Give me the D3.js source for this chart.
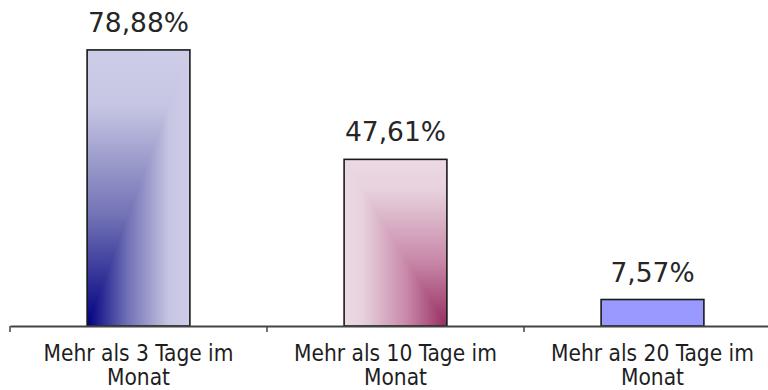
<!DOCTYPE html>
<html>
<head>
<meta charset="utf-8">
<script src="https://cdn.jsdelivr.net/npm/d3@7"></script>
<style>
  html, body { margin: 0; padding: 0; background: #fff; }
  svg { display: block; }
</style>
</head>
<body>
<svg id="chart" width="768" height="390"></svg>
<script>
// Share of respondents by number of days per month
const categories = [
  "Mehr als 3 Tage im Monat",
  "Mehr als 10 Tage im Monat",
  "Mehr als 20 Tage im Monat"
];
const values = [78.88, 47.61, 7.57];
const yDomain = [0, 80];

// Fill style per bar: corner gradients for the first two, flat colour for the third
const barFills = [
  { type: "corner", corner: "bl", stops: [[0, "#000080"], [0.4, "#7272b6"], [0.8, "#c6c6e3"], [1, "#cdcde8"]] },
  { type: "corner", corner: "br", stops: [[0, "#982e62"], [0.4, "#c98aa9"], [0.82, "#e7d2de"], [1, "#ebd9e4"]] },
  { type: "solid", color: "#9999ff" }
];

const width = 768, height = 390;
const axisY = 326;

const svg = d3.select("#chart");
const defs = svg.append("defs");

const x = d3.scaleBand()
  .domain(categories)
  .range([10, 781])
  .paddingInner(0.6)
  .paddingOuter(0.3);

const y = d3.scaleLinear()
  .domain(yDomain)
  .range([axisY, 46]);

const de = d3.formatLocale({ decimal: ",", thousands: ".", grouping: [3], currency: ["", " €"] });
const fmt = v => de.format(".2f")(v) + "%";

function addGradient(id, stops, x1, y1, x2, y2) {
  const g = defs.append("linearGradient")
    .attr("id", id)
    .attr("x1", x1).attr("y1", y1).attr("x2", x2).attr("y2", y2);
  stops.forEach(([o, c]) => g.append("stop").attr("offset", o).attr("stop-color", c));
}

const bars = svg.append("g").attr("class", "bars");

categories.forEach((cat, i) => {
  const v = values[i];
  const x0 = x(cat), x1 = x0 + x.bandwidth();
  const yt = y(v), yb = y(0);
  const fill = barFills[i];
  const g = bars.append("g");

  if (fill.type === "solid") {
    g.append("rect")
      .attr("x", x0).attr("y", yt)
      .attr("width", x1 - x0).attr("height", yb - yt)
      .attr("fill", fill.color);
  } else {
    const left = fill.corner === "bl";
    const hId = "gh" + i, vId = "gv" + i;
    // horizontal ramp away from the dark corner
    addGradient(hId, fill.stops, left ? 0 : 1, 0, left ? 1 : 0, 0);
    // vertical ramp upward from the bottom
    addGradient(vId, fill.stops, 0, 1, 0, 0);
    g.append("rect")
      .attr("x", x0).attr("y", yt)
      .attr("width", x1 - x0).attr("height", yb - yt)
      .attr("fill", `url(#${hId})`);
    // triangle on the far side of the diagonal takes the vertical ramp
    const pts = left
      ? [[x0, yb], [x0, yt], [x1, yt]]
      : [[x1, yb], [x1, yt], [x0, yt]];
    g.append("path")
      .attr("d", d3.line()(pts) + "Z")
      .attr("fill", `url(#${vId})`);
  }

  g.append("rect")
    .attr("x", x0).attr("y", yt)
    .attr("width", x1 - x0).attr("height", yb - yt)
    .attr("fill", "none")
    .attr("stroke", "#1a1a1a")
    .attr("stroke-width", 1.6);

  // value label above the bar
  svg.append("text")
    .attr("x", x0 + x.bandwidth() / 2)
    .attr("y", yt - 18)
    .attr("text-anchor", "middle")
    .attr("font-family", "'DejaVu Sans', Verdana, sans-serif")
    .attr("font-size", 26.5)
    .attr("fill", "#262626")
    .text(fmt(v));
});

// category axis
const axis = d3.axisBottom(x).tickSize(0).tickSizeOuter(0).tickFormat("");
const axisG = svg.append("g")
  .attr("transform", `translate(0,${axisY})`)
  .call(axis);
axisG.select(".domain").attr("stroke", "#444").attr("stroke-width", 2);

// tick marks at category boundaries
const step = x.step();
const boundaries = d3.range(categories.length + 1).map(k => x.range()[0] + k * step);
axisG.selectAll(".bound")
  .data(boundaries)
  .join("line")
  .attr("class", "bound")
  .attr("x1", d => d).attr("x2", d => d)
  .attr("y1", 0).attr("y2", 6)
  .attr("stroke", "#444")
  .attr("stroke-width", 1.5);

// wrapped category labels
const labelFont = "'DejaVu Sans Condensed', 'DejaVu Sans', Tahoma, sans-serif";
categories.forEach(cat => {
  const cx = x(cat) + x.bandwidth() / 2;
  const t = svg.append("text")
    .attr("x", cx)
    .attr("y", axisY + 35)
    .attr("text-anchor", "middle")
    .attr("font-family", labelFont)
    .style("font-stretch", "condensed")
    .attr("font-size", 22.5)
    .attr("fill", "#1e1e1e");
  const words = cat.split(" ");
  const maxW = step - 20;
  let line = [];
  let tspan = t.append("tspan").attr("x", cx).attr("dy", 0);
  words.forEach(w => {
    line.push(w);
    tspan.text(line.join(" "));
    if (tspan.node().getComputedTextLength() > maxW && line.length > 1) {
      line.pop();
      tspan.text(line.join(" "));
      line = [w];
      tspan = t.append("tspan").attr("x", cx).attr("dy", 24).text(w);
    }
  });
});
</script>
</body>
</html>
